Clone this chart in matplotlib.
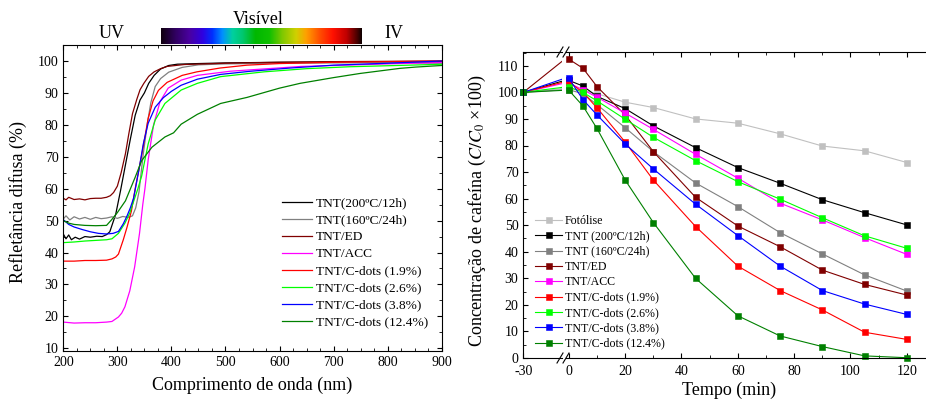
import numpy as np
import matplotlib
matplotlib.use('Agg')
import matplotlib.pyplot as plt
from matplotlib.colors import LinearSegmentedColormap
from matplotlib.ticker import MultipleLocator
from matplotlib.lines import Line2D

plt.rcParams['font.family'] = 'serif'
plt.rcParams['font.serif'] = ['Liberation Serif', 'DejaVu Serif']
plt.rcParams['mathtext.fontset'] = 'stix'
plt.rcParams['axes.unicode_minus'] = False

# ---- left: diffuse reflectance spectra ----
wl_200 = [200, 205, 210, 215, 222, 230, 240, 250, 262, 272, 280, 286, 290, 297, 306, 315, 324, 333, 342, 350, 358, 368, 380, 395, 411, 450, 500, 600, 700, 800, 900]
r_200 = [45.8, 44.3, 45.5, 44.0, 44.8, 44.2, 45.0, 44.8, 45.1, 45.0, 45.6, 46.5, 48.5, 52.0, 59.5, 67.5, 75.5, 83.0, 87.8, 90.0, 93.0, 95.5, 97.5, 98.6, 99.0, 99.2, 99.4, 99.6, 99.7, 99.8, 99.5]

wl_160 = [200, 205, 212, 220, 230, 240, 250, 260, 270, 280, 290, 300, 310, 320, 328, 334, 340, 348, 356, 362, 370, 380, 395, 420, 450, 500, 600, 700, 800, 900]
r_160 = [50.5, 51.5, 50.2, 51.2, 50.5, 51.0, 50.4, 51.0, 50.6, 50.8, 51.2, 50.7, 51.3, 51.0, 51.5, 54.0, 59.0, 71.0, 81.0, 87.0, 92.0, 94.5, 96.5, 98.0, 98.8, 99.1, 99.3, 99.4, 99.5, 99.3]

wl_ed = [200, 205, 210, 220, 230, 240, 250, 260, 270, 280, 287, 293, 300, 307, 315, 321, 328, 336, 342, 349, 358, 368, 380, 392, 424, 500, 600, 700, 800, 900]
r_ed = [57.0, 56.5, 57.3, 56.6, 56.8, 56.5, 56.9, 57.0, 57.0, 57.3, 57.8, 58.8, 60.8, 65.0, 71.0, 77.0, 83.5, 88.0, 91.0, 93.0, 95.2, 96.6, 97.6, 98.3, 98.9, 99.3, 99.6, 99.8, 99.9, 100.0]

wl_acc = [200, 220, 240, 260, 280, 290, 302, 308, 314, 323, 332, 341, 347, 351, 357, 367, 379, 394, 418, 448, 509, 640, 820, 900]
r_acc = [18.2, 17.9, 18.0, 18.0, 18.2, 18.4, 19.8, 21.0, 23.0, 28.0, 35.5, 46.0, 55.0, 60.0, 69.0, 80.0, 87.3, 91.5, 94.0, 95.5, 96.8, 98.3, 99.2, 99.5]

wl_c19 = [200, 220, 240, 260, 280, 290, 297, 302, 311, 318, 326, 333, 345, 357, 366, 376, 392, 420, 447, 490, 540, 600, 700, 800, 900]
r_c19 = [37.3, 37.3, 37.5, 37.5, 37.6, 38.0, 38.6, 39.5, 44.0, 48.0, 53.0, 60.0, 70.5, 82.0, 87.5, 90.8, 93.3, 95.5, 96.6, 97.8, 98.7, 99.2, 99.6, 99.8, 100.0]

wl_c26 = [200, 220, 240, 260, 280, 290, 302, 314, 323, 330, 338, 345, 357, 370, 388, 418, 448, 491, 571, 650, 730, 884, 900]
r_c26 = [43.1, 43.3, 43.6, 43.8, 44.0, 44.3, 46.0, 49.2, 52.4, 56.0, 60.0, 64.0, 74.0, 81.5, 86.7, 90.9, 93.0, 95.1, 96.6, 97.6, 98.2, 98.9, 99.0]

wl_c38 = [200, 210, 220, 235, 250, 265, 280, 292, 302, 311, 318, 324, 330, 340, 348, 357, 370, 385, 400, 418, 448, 491, 547, 620, 700, 800, 884, 900]
r_c38 = [50.3, 48.8, 48.0, 47.2, 46.5, 46.0, 45.8, 46.0, 46.6, 49.0, 51.5, 54.0, 57.0, 66.0, 74.0, 80.5, 85.5, 88.5, 90.5, 92.4, 94.3, 95.8, 96.8, 97.8, 98.7, 99.3, 99.9, 100.0]

wl_c124 = [200, 210, 220, 240, 260, 280, 289, 300, 315, 333, 345, 364, 388, 404, 418, 448, 491, 540, 600, 638, 700, 749, 823, 852, 900]
r_c124 = [50.0, 49.2, 48.8, 48.5, 48.4, 48.5, 50.2, 52.5, 56.2, 63.6, 68.8, 73.0, 76.2, 77.5, 80.2, 83.3, 86.7, 88.6, 91.5, 93.0, 94.8, 96.1, 97.7, 98.1, 98.6]

spec_labels = ['TNT(200ºC/12h)', 'TNT(160ºC/24h)', 'TNT/ED', 'TNT/ACC',
               'TNT/C-dots (1.9%)', 'TNT/C-dots (2.6%)', 'TNT/C-dots (3.8%)', 'TNT/C-dots (12.4%)']

# ---- right: caffeine degradation ----
tempo = [-30, 0, 5, 10, 20, 30, 45, 60, 75, 90, 105, 120]
fotolise = [100, 101.5, 100.8, 99.5, 96.3, 94.3, 90.0, 88.4, 84.4, 79.8, 78.0, 73.6]
tnt_200 = [100, 104.5, 102.4, 98.5, 93.9, 87.4, 79.2, 71.7, 65.8, 59.6, 54.7, 50.1]
tnt_160 = [100, 101.0, 99.5, 95.4, 86.7, 77.7, 65.9, 57.0, 47.2, 39.2, 31.3, 25.2]
tnt_ed = [100, 112.5, 109.1, 102.2, 91.5, 77.7, 60.5, 49.7, 41.9, 33.1, 27.7, 23.7]
tnt_acc = [100, 103.5, 101.0, 98.2, 92.2, 86.1, 76.7, 67.7, 58.3, 52.0, 45.3, 39.0]
cdots_19 = [100, 104.0, 100.0, 94.2, 81.3, 67.0, 49.5, 34.6, 25.4, 18.1, 9.7, 7.0]
cdots_26 = [100, 102.0, 100.0, 96.8, 89.9, 83.1, 74.3, 66.4, 59.8, 52.8, 46.0, 41.3]
cdots_38 = [100, 105.3, 97.3, 91.5, 80.6, 71.2, 57.9, 46.1, 34.6, 25.4, 20.3, 16.4]
cdots_124 = [100, 100.8, 94.9, 86.4, 67.0, 51.0, 30.0, 15.9, 8.3, 4.3, 0.8, 0.1]

deg_labels = ['Fotólise', 'TNT (200ºC/12h)', 'TNT (160ºC/24h)', 'TNT/ED', 'TNT/ACC',
              'TNT/C-dots (1.9%)', 'TNT/C-dots (2.6%)', 'TNT/C-dots (3.8%)', 'TNT/C-dots (12.4%)']

spec_colors = ['black', '#808080', '#800000', '#ff00ff', '#ff0000', '#00ff00', '#0000ff', '#008000']
deg_colors = ['#c0c0c0'] + spec_colors

W, H = 926, 399
fig = plt.figure(figsize=(W / 100, H / 100), dpi=100)

def box(x0, y0, x1, y1):
    return [x0 / W, 1 - y1 / H, (x1 - x0) / W, (y1 - y0) / H]

ax1 = fig.add_axes(box(63.3, 45.3, 441.7, 350.7))
spectra = [(wl_200, r_200), (wl_160, r_160), (wl_ed, r_ed), (wl_acc, r_acc),
           (wl_c19, r_c19), (wl_c26, r_c26), (wl_c38, r_c38), (wl_c124, r_c124)]
for (wl, r), c, lab in zip(spectra, spec_colors, spec_labels):
    ax1.plot(wl, r, color=c, lw=0.9, label=lab)

# visible spectrum bar
stops = [(0.0, '#100010'), (0.07, '#300060'), (0.14, '#4a00a0'), (0.205, '#3000e0'),
         (0.255, '#0030ff'), (0.305, '#0090ff'), (0.355, '#00d0a0'), (0.405, '#00c870'),
         (0.47, '#00b800'), (0.54, '#10c000'), (0.605, '#80c800'), (0.673, '#d0d000'),
         (0.723, '#ffa000'), (0.79, '#ff5000'), (0.857, '#ff1000'), (0.925, '#c00000'),
         (0.975, '#500000'), (1.0, '#100000')]
cmap = LinearSegmentedColormap.from_list('spec', stops)
ax1.imshow(np.linspace(0, 1, 256)[None, :], cmap=cmap, extent=[380, 750, 105.3, 110],
           aspect='auto', clip_on=False, zorder=5)
ax1.set_xlim(200, 900)
ax1.set_ylim(9.24, 104.92)
ax1.xaxis.set_major_locator(MultipleLocator(100))
ax1.xaxis.set_minor_locator(MultipleLocator(25))
ax1.yaxis.set_major_locator(MultipleLocator(10))
ax1.yaxis.set_minor_locator(MultipleLocator(5))
ax1.tick_params(which='both', direction='in', top=True, right=True, labelsize=10)
ax1.tick_params(which='major', length=3.5)
ax1.tick_params(which='minor', length=2)

fig.text(258 / W, 1 - 19 / H, 'Visível', ha='center', va='center', fontsize=13)
fig.text(112 / W, 1 - 33 / H, 'UV', ha='center', va='center', fontsize=13)
fig.text(394 / W, 1 - 33 / H, 'IV', ha='center', va='center', fontsize=13)
fig.text(252 / W, 1 - 385 / H, 'Comprimento de onda (nm)', ha='center', va='center', fontsize=13)
fig.text(18 / W, 1 - 202 / H, 'Refletância difusa (%)', ha='center', va='center',
         rotation=90, fontsize=13)

h1, l1 = ax1.get_legend_handles_labels()
fig.legend(h1, l1, loc='upper left', bbox_to_anchor=(281.7 / W, 1 - 197 / H), frameon=False,
           fontsize=9.6, handlelength=2.25, handletextpad=0.3, labelspacing=0.35,
           borderpad=0, borderaxespad=0)

# broken time axis: left part holds t = -30, right part t >= 0
axL = fig.add_axes(box(523.3, 52, 562, 358))
axR = fig.add_axes(box(566, 52, 935, 358))
series = [fotolise, tnt_200, tnt_160, tnt_ed, tnt_acc, cdots_19, cdots_26, cdots_38, cdots_124]
for y, c, lab in zip(series, deg_colors, deg_labels):
    axL.plot(tempo[:2], y[:2], color=c, lw=0.8)
    axL.plot(tempo[:1], y[:1], color=c, ls='none', marker='s', ms=5, mec=c, mew=0.4,
             clip_on=False)
    axR.plot(tempo[1:], y[1:], color=c, lw=0.8, marker='s', ms=5, mec=c, mew=0.4,
             clip_on=False, label=lab)

for ax in (axL, axR):
    ax.set_ylim(0, 115.2)
    ax.tick_params(which='both', direction='in', labelsize=10)
    ax.tick_params(which='major', length=3.5)
    ax.tick_params(which='minor', length=2)
    ax.tick_params(axis='x', pad=5)

axL.set_xlim(-30, -2)
axL.spines['right'].set_visible(False)
axL.set_xticks([-30])
axL.set_xticks([-15], minor=True)
axL.tick_params(which='minor', axis='x', bottom=False, top=True)
axL.yaxis.set_major_locator(MultipleLocator(10))
axL.yaxis.set_minor_locator(MultipleLocator(5))

axR.set_xlim(-1, 130)
axR.spines['left'].set_visible(False)
axR.spines['right'].set_visible(False)
axR.tick_params(which='both', left=False, labelleft=False, top=True)
axR.xaxis.set_major_locator(MultipleLocator(20))
axR.xaxis.set_minor_locator(MultipleLocator(10))
axR.set_xticks(range(0, 121, 20))

for yb in (52, 358):
    for xb in (557, 563):
        fig.add_artist(Line2D([xb / W, (xb + 6) / W], [1 - (yb + 5) / H, 1 - (yb - 5) / H],
                              color='black', lw=0.8))

fig.text(729 / W, 1 - 390 / H, 'Tempo (min)', ha='center', va='center', fontsize=13)
fig.text(477 / W, 1 - 211 / H, r'Concentração de cafeína ($C/C_0$ ×100)', ha='center',
         va='center', rotation=90, fontsize=13)

h2, l2 = axR.get_legend_handles_labels()
fig.legend(h2, l2, loc='upper left', bbox_to_anchor=(535 / W, 1 - 215 / H), frameon=False,
           fontsize=8.6, handlelength=2.3, handletextpad=0.2, labelspacing=0.28,
           borderpad=0, borderaxespad=0, numpoints=1)

fig.savefig('out.png', dpi=100)
